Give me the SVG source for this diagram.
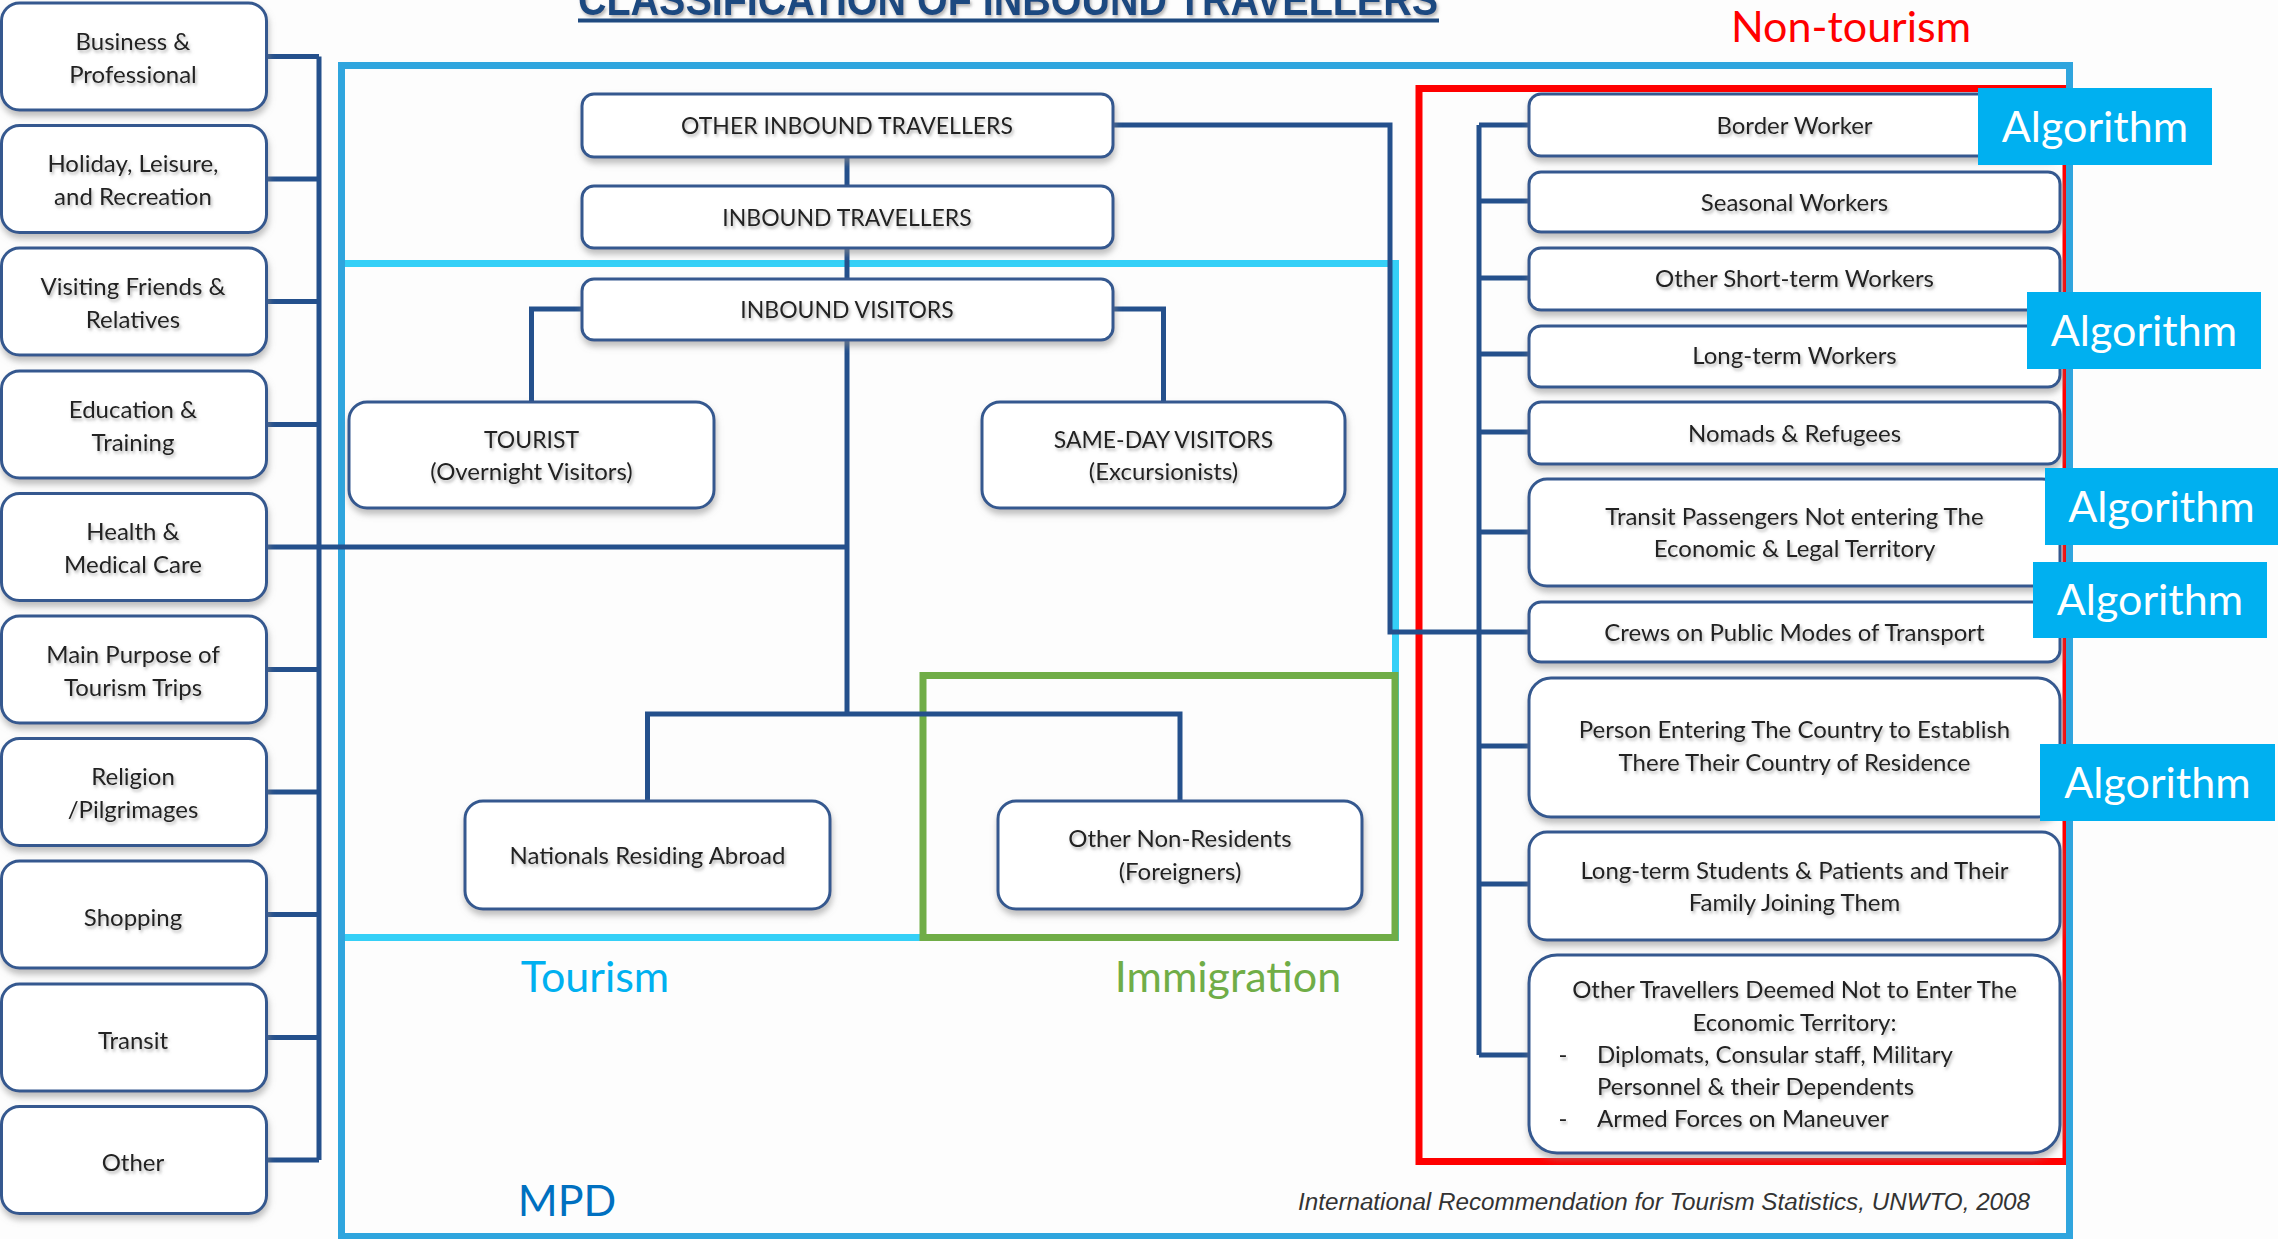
<svg xmlns="http://www.w3.org/2000/svg" width="2278" height="1239" viewBox="0 0 2278 1239">
  <defs>
    <filter id="bs" x="-10%" y="-20%" width="120%" height="150%">
      <feDropShadow dx="1" dy="5" stdDeviation="3" flood-color="#8a8a8a" flood-opacity="0.55"/>
    </filter>
    <filter id="ts" x="-5%" y="-30%" width="110%" height="170%">
      <feDropShadow dx="1.5" dy="2.5" stdDeviation="1.6" flood-color="#777" flood-opacity="0.55"/>
    </filter>
    <style>
      .bx { fill:#fff; stroke:#34598f; stroke-width:3; filter:url(#bs); }
      .t { font-family:Lato, "Liberation Sans", sans-serif; font-size:24px; fill:#222; text-anchor:middle; filter:url(#ts); }
      .uc { font-size:23px; }
      .tl { text-anchor:start; }
      .cn { fill:none; stroke:#24508c; stroke-width:5; stroke-linejoin:miter; }
      .frame { fill:none; }
      .alg rect { fill:#00b0f0; }
      .alg text { font-family:Lato, "Liberation Sans", sans-serif; font-size:43px; fill:#fff; text-anchor:middle; }
      .lbl { font-family:Lato, "Liberation Sans", sans-serif; font-size:43px; text-anchor:middle; }
    </style>
  </defs>

  <rect width="2278" height="1239" fill="#fdfdfd"/>

  <!-- heading, mostly cut off by the top edge -->
  <g id="title">
    <text x="578" y="15" textLength="860" lengthAdjust="spacingAndGlyphs" font-family="'Liberation Sans', sans-serif" font-weight="bold" font-size="44" fill="#1f4a80" filter="url(#ts)">CLASSIFICATION OF INBOUND TRAVELLERS</text>
    <rect x="578" y="18.5" width="861" height="4" fill="#1f4a80"/>
  </g>

  <!-- region frames -->
  <g id="frames">
    <rect x="1419" y="88.5" width="647" height="1073" class="frame" stroke="#ff0000" stroke-width="7"/>
    <rect x="341.5" y="263.5" width="1054" height="674" class="frame" stroke="#35d0f7" stroke-width="7"/>
    <rect x="923" y="675.5" width="472" height="262" class="frame" stroke="#70ad47" stroke-width="7"/>
    <rect x="341.5" y="65.5" width="1728" height="1171" class="frame" stroke="#2fa5de" stroke-width="7"/>
  </g>

  <!-- connectors -->
  <g id="connectors">
    <!-- purposes of trip bracket -->
    <path class="cn" d="M266 56.5H319M266 179H319M266 301.5H319M266 424.5H319M266 669.5H319M266 792H319M266 914.5H319M266 1037.5H319M266 1160H319M319 56.5V1160"/>
    <path class="cn" d="M266 547H847"/>
    <!-- main trunk -->
    <path class="cn" d="M847 157V186M847 248V279M847 340V714"/>
    <path class="cn" d="M582 309H531.5V402M1113 309H1163.5V402"/>
    <path class="cn" d="M647.5 801V714H1180V801"/>
    <!-- other inbound travellers to non-tourism list -->
    <path class="cn" d="M1113 125H1390V632H1529"/>
    <path class="cn" d="M1479 125V1055M1479 125H1529M1479 201H1529M1479 278H1529M1479 354H1529M1479 432H1529M1479 532H1529M1479 746H1529M1479 884H1529M1479 1055H1529"/>
  </g>

  <!-- purpose of trip nodes -->
  <g id="purpose-business"><rect class="bx" x="1.5" y="3" width="265" height="107" rx="18"/><text class="t" x="133" y="49.5">Business &amp;</text><text class="t" x="133" y="82.5">Professional</text></g>
  <g id="purpose-holiday"><rect class="bx" x="1.5" y="125.5" width="265" height="107" rx="18"/><text class="t" x="133" y="172">Holiday, Leisure,</text><text class="t" x="133" y="205">and Recreation</text></g>
  <g id="purpose-vfr"><rect class="bx" x="1.5" y="248" width="265" height="107" rx="18"/><text class="t" x="133" y="294.5">Visiting Friends &amp;</text><text class="t" x="133" y="327.5">Relatives</text></g>
  <g id="purpose-education"><rect class="bx" x="1.5" y="371" width="265" height="107" rx="18"/><text class="t" x="133" y="417.5">Education &amp;</text><text class="t" x="133" y="450.5">Training</text></g>
  <g id="purpose-health"><rect class="bx" x="1.5" y="493.5" width="265" height="107" rx="18"/><text class="t" x="133" y="540">Health &amp;</text><text class="t" x="133" y="573">Medical Care</text></g>
  <g id="purpose-main"><rect class="bx" x="1.5" y="616" width="265" height="107" rx="18"/><text class="t" x="133" y="662.5">Main Purpose of</text><text class="t" x="133" y="695.5">Tourism Trips</text></g>
  <g id="purpose-religion"><rect class="bx" x="1.5" y="738.5" width="265" height="107" rx="18"/><text class="t" x="133" y="785">Religion</text><text class="t" x="133" y="818">/Pilgrimages</text></g>
  <g id="purpose-shopping"><rect class="bx" x="1.5" y="861" width="265" height="107" rx="18"/><text class="t" x="133" y="926">Shopping</text></g>
  <g id="purpose-transit"><rect class="bx" x="1.5" y="984" width="265" height="107" rx="18"/><text class="t" x="133" y="1048.5">Transit</text></g>
  <g id="purpose-other"><rect class="bx" x="1.5" y="1106.5" width="265" height="107" rx="18"/><text class="t" x="133" y="1171">Other</text></g>

  <!-- classification tree -->
  <g id="other-inbound-travellers"><rect class="bx" x="582" y="94" width="531" height="63" rx="12"/><text class="t uc" x="847" y="134">OTHER INBOUND TRAVELLERS</text></g>
  <g id="inbound-travellers"><rect class="bx" x="582" y="186" width="531" height="62" rx="12"/><text class="t uc" x="847" y="226">INBOUND TRAVELLERS</text></g>
  <g id="inbound-visitors"><rect class="bx" x="582" y="279" width="531" height="61" rx="12"/><text class="t uc" x="847" y="318">INBOUND VISITORS</text></g>
  <g id="tourist"><rect class="bx" x="349" y="402" width="365" height="106" rx="18"/><text class="t uc" x="531.5" y="448">TOURIST</text><text class="t" x="531.5" y="480">(Overnight Visitors)</text></g>
  <g id="same-day"><rect class="bx" x="982" y="402" width="363" height="106" rx="18"/><text class="t uc" x="1163.5" y="448">SAME-DAY VISITORS</text><text class="t" x="1163.5" y="480">(Excursionists)</text></g>
  <g id="nationals-abroad"><rect class="bx" x="465" y="801" width="365" height="108" rx="18"/><text class="t" x="647.5" y="864">Nationals Residing Abroad</text></g>
  <g id="non-residents"><rect class="bx" x="998" y="801" width="364" height="108" rx="18"/><text class="t" x="1180" y="847">Other Non-Residents</text><text class="t" x="1180" y="880">(Foreigners)</text></g>

  <!-- non-tourism list -->
  <g id="border-worker"><rect class="bx" x="1529" y="94" width="531" height="62" rx="12"/><text class="t" x="1794.5" y="134">Border Worker</text></g>
  <g id="seasonal-workers"><rect class="bx" x="1529" y="172" width="531" height="60" rx="12"/><text class="t" x="1794.5" y="211">Seasonal Workers</text></g>
  <g id="short-term-workers"><rect class="bx" x="1529" y="248" width="531" height="62" rx="12"/><text class="t" x="1794.5" y="287">Other Short-term Workers</text></g>
  <g id="long-term-workers"><rect class="bx" x="1529" y="326" width="531" height="61" rx="12"/><text class="t" x="1794.5" y="364">Long-term Workers</text></g>
  <g id="nomads-refugees"><rect class="bx" x="1529" y="402" width="531" height="62" rx="12"/><text class="t" x="1794.5" y="442">Nomads &amp; Refugees</text></g>
  <g id="transit-passengers"><rect class="bx" x="1529" y="479" width="531" height="107" rx="18"/><text class="t" x="1794.5" y="525">Transit Passengers Not entering The</text><text class="t" x="1794.5" y="557">Economic &amp; Legal Territory</text></g>
  <g id="crews"><rect class="bx" x="1529" y="602" width="531" height="60" rx="12"/><text class="t" x="1794.5" y="641">Crews on Public Modes of Transport</text></g>
  <g id="new-residents"><rect class="bx" x="1529" y="678" width="531" height="139" rx="22"/><text class="t" x="1794.5" y="738">Person Entering The Country to Establish</text><text class="t" x="1794.5" y="771">There Their Country of Residence</text></g>
  <g id="students-patients"><rect class="bx" x="1529" y="832" width="531" height="108" rx="18"/><text class="t" x="1794.5" y="879">Long-term Students &amp; Patients and Their</text><text class="t" x="1794.5" y="911">Family Joining Them</text></g>
  <g id="other-travellers"><rect class="bx" x="1529" y="955" width="531" height="198" rx="28"/>
    <text class="t" x="1794.5" y="998">Other Travellers Deemed Not to Enter The</text>
    <text class="t" x="1794.5" y="1031">Economic Territory:</text>
    <text class="t" x="1563" y="1063">-</text><text class="t tl" x="1597" y="1063">Diplomats, Consular staff, Military</text>
    <text class="t tl" x="1597" y="1095">Personnel &amp; their Dependents</text>
    <text class="t" x="1563" y="1127">-</text><text class="t tl" x="1597" y="1127">Armed Forces on Maneuver</text>
  </g>

  <!-- algorithm tags -->
  <g id="alg-1" class="alg"><rect x="1978" y="88" width="234" height="77"/><text x="2095" y="142">Algorithm</text></g>
  <g id="alg-2" class="alg"><rect x="2027" y="292" width="234" height="77"/><text x="2144" y="346">Algorithm</text></g>
  <g id="alg-3" class="alg"><rect x="2045" y="468" width="233" height="77"/><text x="2161.5" y="522">Algorithm</text></g>
  <g id="alg-4" class="alg"><rect x="2033" y="562" width="234" height="76"/><text x="2150" y="615">Algorithm</text></g>
  <g id="alg-5" class="alg"><rect x="2040" y="744" width="235" height="77"/><text x="2157.5" y="798">Algorithm</text></g>

  <!-- region labels -->
  <g id="labels">
    <text class="lbl" x="1851" y="42" fill="#ff0000">Non-tourism</text>
    <text class="lbl" x="595" y="992" fill="#00b0f0">Tourism</text>
    <text class="lbl" x="1228" y="992" fill="#70ad47" font-size="44">Immigration</text>
    <text class="lbl" x="567" y="1216" fill="#0070c0">MPD</text>
    <text x="1298" y="1210" textLength="732" lengthAdjust="spacingAndGlyphs" font-family="'Liberation Sans', sans-serif" font-style="italic" font-size="23" fill="#333">International  Recommendation  for Tourism Statistics, UNWTO, 2008</text>
  </g>
</svg>
